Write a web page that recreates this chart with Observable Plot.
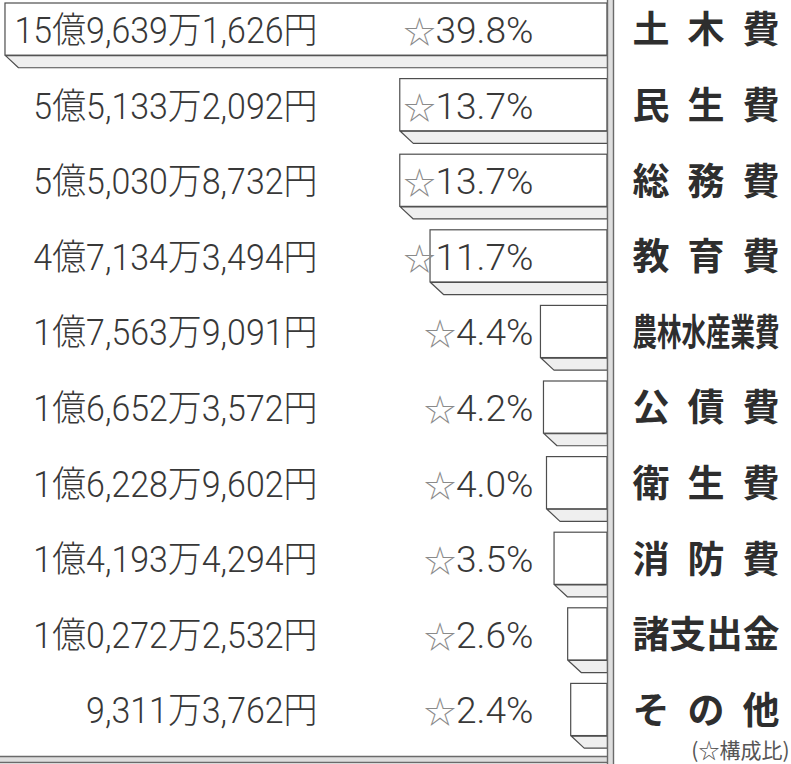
<!DOCTYPE html>
<html>
<head>
<meta charset="utf-8">
<script src="https://cdn.jsdelivr.net/npm/d3@7"></script>
<script src="https://cdn.jsdelivr.net/npm/@observablehq/plot@0.6"></script>
<style>
  html, body { margin: 0; padding: 0; background: #ffffff; }
  svg { display: block; }
</style>
</head>
<body>
<div id="chart"></div>
<script>
// ---- data ----
const categories = ["土木費", "民生費", "総務費", "教育費", "農林水産業費", "公債費", "衛生費", "消防費", "諸支出金", "その他"];
const amounts = [
  "15億9,639万1,626円",
  "5億5,133万2,092円",
  "5億5,030万8,732円",
  "4億7,134万3,494円",
  "1億7,563万9,091円",
  "1億6,652万3,572円",
  "1億6,228万9,602円",
  "1億4,193万4,294円",
  "1億0,272万2,532円",
  "9,311万3,762円"
];
const shares = [39.8, 13.7, 13.7, 11.7, 4.4, 4.2, 4.0, 3.5, 2.6, 2.4];
const star = "☆";
const noteText = "(☆構成比)";

// ---- layout ----
const W = 791, H = 764;
const axisX = 607;            // pixel position of the vertical axis
const pxPerUnit = 15.126;     // pixels per percentage point
const xMax = axisX / pxPerUnit;
const faceH = 0.69;           // bar face height (in row units)
const bevelH = 0.85;          // bottom of the bevel (in row units)
const bevelDx = 13 / pxPerUnit;
const catDx = 25;
const catWidth = 147;
const textY = d => d.i + faceH / 2 + 0.025;
const numFont = "Roboto, 'Noto Sans CJK JP', sans-serif";
const catFont = "'Noto Sans CJK JP', 'Noto Sans', sans-serif";
const lineCol = "#4e4e4e";

const rows = categories.map((c, i) => ({i, cat: c, amount: amounts[i], share: shares[i]}));
const bevel = rows.flatMap(d => [
  {i: d.i, x: d.share, y: d.i + faceH},
  {i: d.i, x: 0, y: d.i + faceH},
  {i: d.i, x: 0, y: d.i + bevelH},
  {i: d.i, x: Math.max(0, d.share - bevelDx), y: d.i + bevelH},
  {i: d.i, x: d.share, y: d.i + faceH}
]);

const plot = Plot.plot({
  width: W,
  height: H,
  marginLeft: 0,
  marginRight: W - axisX,
  marginTop: 3,
  marginBottom: 5,
  x: {domain: [0, xMax], reverse: true, axis: null},
  y: {domain: [0, 10], reverse: true, axis: null},
  style: {background: "#ffffff", fontFamily: catFont, overflow: "visible"},
  marks: [
    // bevel (3D bottom face)
    Plot.line(bevel, {x: "x", y: "y", z: "i", fill: "#efefef", stroke: lineCol, strokeWidth: 1.2, curve: "linear"}),
    // bar face
    Plot.rect(rows, {x1: 0, x2: "share", y1: "i", y2: d => d.i + faceH, fill: "#ffffff", stroke: lineCol, strokeWidth: 1.2}),
    // bottom double rule
    Plot.ruleY([10], {stroke: "#dedede", strokeWidth: 5}),
    Plot.ruleY([10], {stroke: "#6a6a6a", strokeWidth: 1.3, dy: -3}),
    Plot.ruleY([10], {stroke: "#6a6a6a", strokeWidth: 1.3, dy: 3}),
    // vertical axis (double line)
    Plot.ruleX([0], {y1: -0.1, y2: 10.2, stroke: "#dedede", strokeWidth: 6, dx: 3}),
    Plot.ruleX([0], {y1: -0.1, y2: 10.2, stroke: "#6a6a6a", strokeWidth: 1.4, dx: 0}),
    Plot.ruleX([0], {y1: -0.1, y2: 10.2, stroke: "#6a6a6a", strokeWidth: 1.4, dx: 6}),
    // amounts
    Plot.text(rows, {y: textY, text: "amount", frameAnchor: "left", dx: 317, textAnchor: "end", fontSize: 36, fontWeight: 300, fontFamily: numFont, fill: "#383838"}),
    // shares
    Plot.text(rows, {y: textY, text: d => star + d.share.toFixed(1) + "%", frameAnchor: "left", dx: 533, textAnchor: "end", fontSize: 36, fontWeight: 300, fontFamily: numFont, fill: "#383838"}),
    // categories
    Plot.text(rows, {y: textY, text: "cat", frameAnchor: "right", dx: catDx, textAnchor: "start", fontSize: 37, fontWeight: "bold", fill: "#2e2e2e"}),
    // note
    Plot.text([noteText], {frameAnchor: "bottom-right", dx: 182, dy: -2, textAnchor: "end", fontSize: 21, fill: "#555"})
  ]
});

document.getElementById("chart").appendChild(plot);

// post-processing of the label text (keeps real text)
const SVGNS = "http://www.w3.org/2000/svg";
const groups = plot.querySelectorAll('g[aria-label="text"]');
const amountTexts = Array.from(groups[0].querySelectorAll("text"));
const shareTexts = Array.from(groups[1].querySelectorAll("text"));
const catTexts = Array.from(groups[2].querySelectorAll("text"));

// lighter, smaller star in the share labels
shareTexts.forEach(t => {
  const s = t.textContent;
  if (s.startsWith(star)) {
    t.textContent = "";
    const a = document.createElementNS(SVGNS, "tspan");
    a.textContent = star;
    a.setAttribute("fill", "#8a8a8a");
    a.setAttribute("font-size", "31");
    a.setAttribute("font-family", catFont);
    const b = document.createElementNS(SVGNS, "tspan");
    b.textContent = s.slice(star.length);
    t.appendChild(a);
    t.appendChild(b);
  }
});

const k1 = 303 / amountTexts[0].getComputedTextLength();
amountTexts.forEach(t => {
  t.setAttribute("textLength", (t.getComputedTextLength() * k1).toFixed(1));
  t.setAttribute("lengthAdjust", "spacingAndGlyphs");
});
const k2 = 130 / shareTexts[0].getComputedTextLength();
shareTexts.forEach(t => {
  t.setAttribute("textLength", (t.getComputedTextLength() * k2).toFixed(1));
  t.setAttribute("lengthAdjust", "spacingAndGlyphs");
});

// category labels: spread short ones, condense long ones
// (the mark's dx is applied on its group, so the text anchor is at axisX locally)
const x0 = axisX;
catTexts.forEach(t => {
  const L = t.getComputedTextLength();
  if (L <= catWidth) {
    t.setAttribute("textLength", catWidth);
    t.setAttribute("lengthAdjust", "spacing");
  } else {
    const s = catWidth / L;
    const g = document.createElementNS(SVGNS, "g");
    g.setAttribute("transform", `translate(${x0},0) scale(${s.toFixed(4)},1) translate(${-x0},0)`);
    t.parentNode.insertBefore(g, t);
    g.appendChild(t);
  }
});
</script>
</body>
</html>
